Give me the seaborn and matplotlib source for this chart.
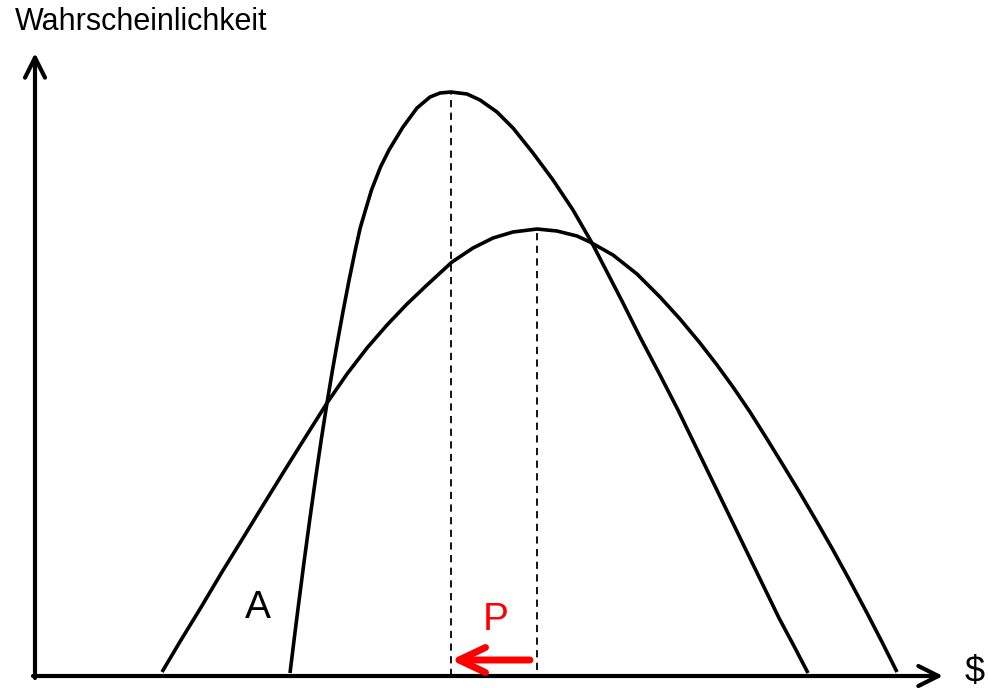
import matplotlib
matplotlib.use("Agg")
import matplotlib.pyplot as plt
import seaborn as sns

# curve values (price on x, probability height on y)
narrow_x = [255, 260.3, 264.5, 268.9, 274.7, 280.9, 286.2, 292, 297.5, 302.8, 308.3,
            314.1, 320.3, 325.2, 330.5, 336.5, 345.5, 354, 368, 382, 395, 405, 416,
            432, 445, 462, 478, 498, 518, 538, 557, 572, 588, 605, 625, 643, 660,
            677, 694, 710, 727, 744, 760, 773]
narrow_y = [3, 46, 79, 113, 156, 200, 236, 273, 306, 336, 366,
            396, 426, 448, 466, 486, 509, 526, 549, 568, 579, 583, 584,
            582, 576, 564, 548, 523, 496, 466, 433, 404, 373, 339, 301, 266, 231,
            196, 161, 128, 93, 58, 28, 3]

wide_x = [127, 146, 165, 187, 208, 227, 248, 268, 292, 312, 332, 352, 372, 392, 417,
          438, 458, 478, 502, 522, 542, 555, 578, 602, 625, 645, 665, 682, 698, 715,
          732, 748, 765, 782, 798, 815, 832, 847, 862]
wide_y = [4, 36, 67, 104, 138, 169, 203, 235, 273, 302, 328, 351, 372, 391, 414,
          428, 438, 444, 447, 445, 440, 434, 421, 402, 379, 357, 333, 311, 289, 264,
          237, 211, 183, 154, 126, 95, 63, 34, 4]

# peaks (dashed markers) and the shift arrow
peak_x = [416, 502]
peak_y = [584, 447]
shift_from = 495
shift_to = 416

y_label = "Wahrscheinlichkeit"
x_label = "$"

sns.set_theme(style="white")
plt.rcParams["font.family"] = ["Liberation Sans", "DejaVu Sans"]

fig = plt.figure(figsize=(9.88, 6.88), dpi=100)
ax = fig.add_axes([0, 0, 1, 1])

line_kw = dict(sort=False, color="black", lw=2.6, ax=ax,
               solid_joinstyle="round", solid_capstyle="butt")
sns.lineplot(x=narrow_x, y=narrow_y, **line_kw)
sns.lineplot(x=wide_x, y=wide_y, **line_kw)

# dashed drops from the peaks
ax.vlines(peak_x[0], 0, peak_y[0], colors="black", linestyles=(0, (4, 3)), lw=1.3)
ax.vlines(peak_x[1], 6, peak_y[1], colors="black", linestyles=(0, (4, 3)), lw=1.3)

# axes as arrows
arrow_kw = dict(arrowstyle="->,head_length=0.72,head_width=0.36",
                mutation_scale=20, lw=3, color="black", shrinkA=0, shrinkB=0)
ax.annotate("", xy=(908, 0), xytext=(-2, 0), arrowprops=arrow_kw)
ax.annotate("", xy=(0, 623), xytext=(0, -2), arrowprops=arrow_kw)

# red shift arrow
ax.annotate("", xy=(shift_to, 16), xytext=(shift_from, 16),
            arrowprops=dict(arrowstyle="->,head_length=0.95,head_width=0.45",
                            mutation_scale=20, lw=5, color="#ff0000",
                            shrinkA=0, shrinkB=0))

ax.text(461, 56, "P", color="#ff0000", fontsize=28, ha="center", va="center")
ax.text(223, 68, "A", color="black", fontsize=28, ha="center", va="center")
ax.text(930, 4, x_label, color="black", fontsize=26, ha="left", va="center")
ax.text(-20, 654, y_label, color="black", fontsize=22, ha="left", va="center")

ax.set_xlim(-35, 953)
ax.set_ylim(-12, 676)
ax.axis("off")

fig.savefig("out.png", dpi=100)
